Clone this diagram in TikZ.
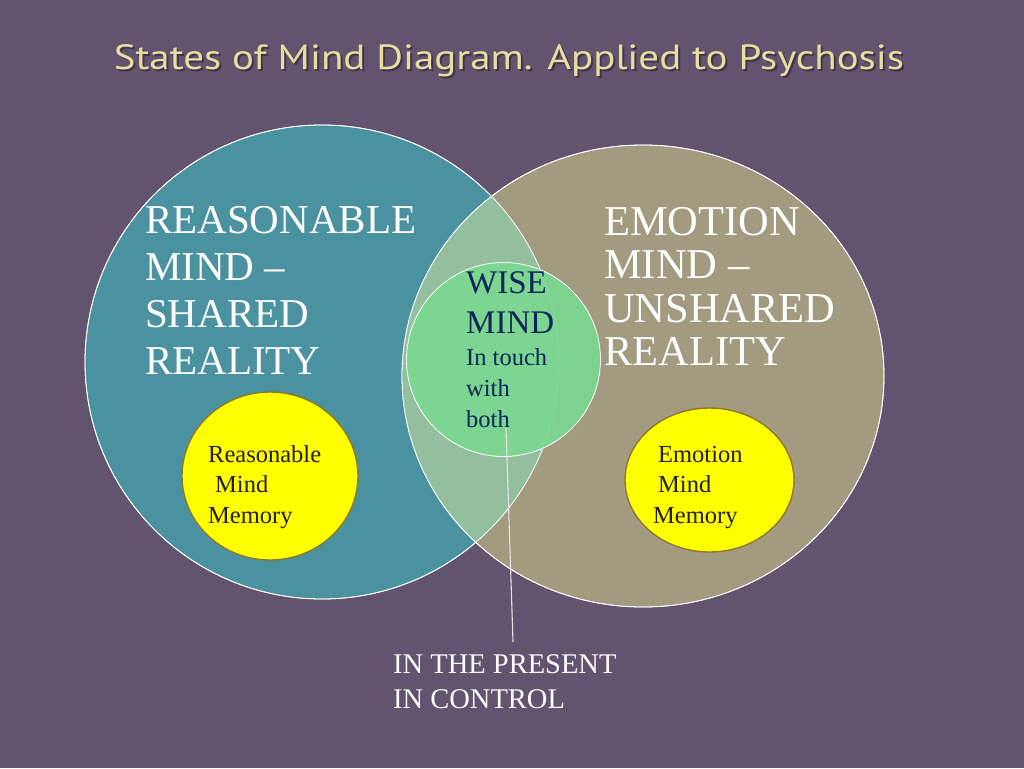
\documentclass[tikz,border=0pt]{standalone}
\usepackage{fontspec}
\setmainfont{Liberation Serif}
\newfontfamily\titlefont{PT Sans}
\usetikzlibrary{shapes.geometric}
\definecolor{bgpurple}{HTML}{62536F}
\definecolor{teal}{HTML}{4A92A0}
\definecolor{khaki}{HTML}{A29B80}
\definecolor{overlap}{HTML}{94BF9E}
\definecolor{wisegreen}{HTML}{7AD890}
\definecolor{memyellow}{HTML}{FFFF00}
\definecolor{memedge}{HTML}{8C7A2C}
\definecolor{titlegold}{HTML}{E8DEA0}
\definecolor{titleshadow}{HTML}{2A2035}
\definecolor{navy}{HTML}{0B2558}
\definecolor{memtext}{HTML}{231F1A}
\definecolor{pointer}{HTML}{EAE0EA}
\newcommand\firststrut{\rule{0pt}{0.8em}}
\newcommand\titletext{\scalebox{1.17}[1]{States of Mind Diagram. Applied to Psychosis}}
\begin{document}
\begin{tikzpicture}[x=1pt,y=-1pt,
  bigcircle/.style={ellipse, draw=white, line width=0.8pt, inner sep=0pt, outer sep=0pt},
  memcircle/.style={ellipse, draw=memedge, line width=1.4pt, fill=memyellow, inner sep=0pt},
  bigtext/.style={anchor=north west, inner sep=0pt, align=left, text=white, font=\fontsize{41}{47}\selectfont},
  memtxt/.style={anchor=north west, inner sep=0pt, align=left, text=memtext, font=\fontsize{24.5}{30.5}\selectfont},
  wisetxt/.style={anchor=north west, inner sep=0pt, align=left, text=navy},
  titlestyle/.style={anchor=base, font=\titlefont\fontsize{35}{40}\selectfont}]
\useasboundingbox (0,0) rectangle (1024,768);
\fill[bgpurple] (0,0) rectangle (1024,768);
% title
\node[titlestyle, text=titleshadow, opacity=0.6] (titleshadow) at (511,71) {\titletext};
\node[titlestyle, text=titlegold] (title) at (509,69) {\titletext};
% big circles
\node[bigcircle, fill=teal, minimum width=474pt, minimum height=474pt] (reason) at (322,362) {};
\node[bigcircle, fill=khaki, minimum width=482pt, minimum height=462pt] (emotion) at (643,376) {};
\begin{scope}
  \clip (322,362) circle[radius=237pt];
  \fill[overlap] (643,376) ellipse[x radius=241pt, y radius=231pt];
\end{scope}
\draw[white, line width=0.8pt] (322,362) circle[radius=237pt];
\draw[white, line width=0.8pt] (643,376) ellipse[x radius=241pt, y radius=231pt];
% wise mind circle
\node[circle, draw=white, line width=0.8pt, fill=wisegreen, fill opacity=0.92, minimum size=194pt, inner sep=0pt] (wise) at (503.5,359.5) {};
% memory circles
\node[memcircle, minimum width=176pt, minimum height=168pt] (rmem) at (270,476) {};
\node[memcircle, minimum width=169pt, minimum height=144pt] (emem) at (709.5,480) {};
% texts
\node[bigtext] (reasontext) at (145,233-32.8) {\firststrut REASONABLE\\MIND --\\SHARED\\REALITY};
\node[bigtext, font=\fontsize{42.5}{43.5}\selectfont] (emotiontext) at (604,235-34) {\firststrut EMOTION\\MIND --\\UNSHARED\\REALITY};
\node[wisetxt, font=\fontsize{33}{40}\selectfont] (wisetitle) at (466,293-26.4) {\firststrut WISE\\MIND};
\node[wisetxt, font=\fontsize{24.5}{31}\selectfont] (wisesub) at (466,365-19.6) {\firststrut In touch\\with\\both};
\node[memtxt] (rmemtext) at (208,462-19.6) {\firststrut Reasonable\\\hspace*{7pt}Mind\\Memory};
\node[memtxt] (ememtext) at (653,462-19.6) {\firststrut\hspace*{5pt}Emotion\\\hspace*{5pt}Mind\\Memory};
\node[anchor=north west, inner sep=0pt, align=left, text=white, font=\fontsize{28.5}{35}\selectfont] (present) at (393,673-22.8) {\firststrut IN THE PRESENT\\IN CONTROL};
% pointer line
\coordinate (wtail) at (506,428);
\coordinate (ptip) at (513,642);
\draw[pointer, line width=1.1pt] (wtail) -- (ptip);
\end{tikzpicture}
\end{document}
